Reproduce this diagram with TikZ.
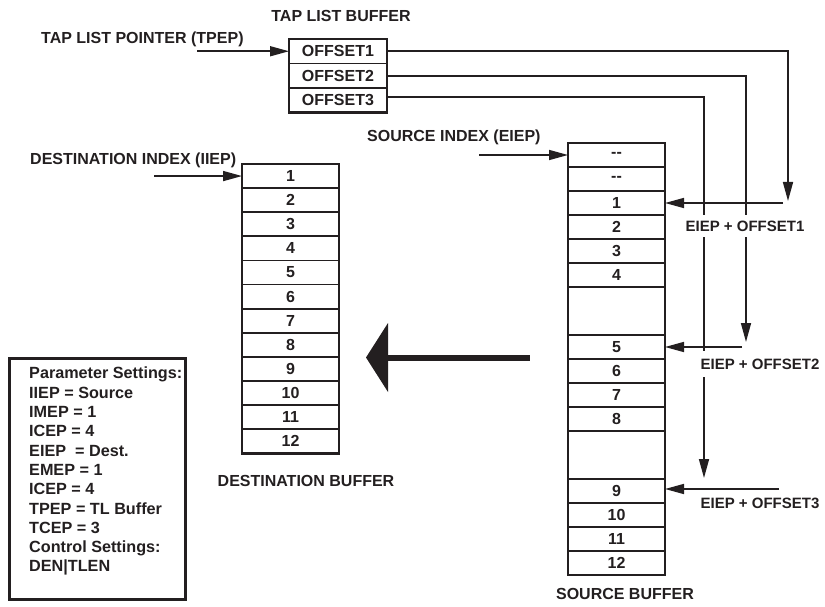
\documentclass[tikz,border=0pt]{standalone}
\usepackage{fontspec}
\setmainfont{Liberation Sans}
\usetikzlibrary{arrows.meta}
\definecolor{ink}{RGB}{35,31,32}
\begin{document}
\begin{tikzpicture}[x=1pt,y=-1pt,
  every node/.style={font=\bfseries\fontsize{16}{18}\selectfont, text=ink},
  cell/.style={draw=ink, line width=1.8pt, minimum width=97pt, minimum height=24pt, inner sep=0pt, outer sep=0pt},
  dcell/.style={cell, minimum height=24.1pt},
  tapcell/.style={cell, minimum width=98pt, minimum height=24.5pt},
  border/.style={draw=ink, line width=2.6pt},
  conn/.style={draw=ink, line width=1.6pt},
  arrow/.style={conn, -{Triangle[length=19pt,width=10pt]}},
  lab/.style={fill=white, font=\bfseries\fontsize{15}{17}\selectfont, inner xsep=1pt, inner ysep=6pt},
  plain/.style={anchor=west, inner sep=0pt}
]
\useasboundingbox (0,0) rectangle (825,607);

% tap list buffer
\node (tlb) at (341,16) {TAP LIST BUFFER};
\node[tapcell] (t1) at (338,51.25) {OFFSET1};
\node[tapcell] (t2) at (338,75.75) {OFFSET2};
\node[tapcell] (t3) at (338,100.25) {OFFSET3};
\draw[border] (t1.north west) rectangle (t3.south east);
\node[plain] (tpeplab) at (41,39) {TAP LIST POINTER (TPEP)};
\coordinate (tpep) at (197,51.25);
\draw[arrow] (tpep) -- (t1.west);

% source buffer
\node[cell] (sa) at (616.5,155) {-{}-};
\node[cell] (sb) at (616.5,179) {-{}-};
\node[cell] (s1) at (616.5,203) {1};
\node[cell] (s2) at (616.5,227) {2};
\node[cell] (s3) at (616.5,251) {3};
\node[cell] (s4) at (616.5,275) {4};
\node[cell, minimum height=48pt] (sg1) at (616.5,311) {};
\node[cell] (s5) at (616.5,347) {5};
\node[cell] (s6) at (616.5,371) {6};
\node[cell] (s7) at (616.5,395) {7};
\node[cell] (s8) at (616.5,419) {8};
\node[cell, minimum height=48pt] (sg2) at (616.5,455) {};
\node[cell] (s9) at (616.5,491) {9};
\node[cell] (s10) at (616.5,515) {10};
\node[cell] (s11) at (616.5,539) {11};
\node[cell] (s12) at (616.5,563) {12};
\draw[border] (sa.north west) rectangle (s12.south east);
\node (sblab) at (625,594) {SOURCE BUFFER};
\node[plain] (eieplab) at (367,137) {SOURCE INDEX (EIEP)};
\coordinate (eiep) at (479,155);
\draw[arrow] (eiep) -- (sa.west);

% destination buffer
\foreach \i in {1,...,12}
  \node[dcell] (d\i) at (290.5,{164+12.05+24.1*(\i-1)}) {\i};
\draw[border] (d1.north west) rectangle (d12.south east);
\node (dblab) at (306,481) {DESTINATION BUFFER};
\node[plain] (iieplab) at (30,160) {DESTINATION INDEX (IIEP)};
\coordinate (iiep) at (154,176.05);
\draw[arrow] (iiep) -- (d1.west);

% offset connectors
\coordinate (o1) at (788,201);
\coordinate (o2) at (746,342);
\coordinate (o3) at (704,478);
\draw[arrow] (t1.east) -| (o1);
\draw[arrow] (t2.east) -| (o2);
\draw[arrow] ([yshift=3pt]t3.east) -| (o3);
\coordinate (h1) at (783,203);
\coordinate (h2) at (742,347);
\coordinate (h3) at (779,489);
\draw[arrow] (h1) -- (h1 -| s1.east);
\draw[arrow] (h2) -- (h2 -| s5.east);
\draw[arrow] (h3) -- (h3 -| s9.east);
\node[lab] (l1) at (745,226) {EIEP + OFFSET1};
\node[lab, inner ysep=7.5pt] (l2) at (760,364) {EIEP + OFFSET2};
\node[lab] (l3) at (760,503) {EIEP + OFFSET3};

% big transfer arrow
\fill[ink] (366,357.5) -- (388,323) -- (388,392) -- cycle;
\draw[ink, line width=6pt] (387,357.5) -- (530,357.5);

% parameter box
\node[border, anchor=north west, minimum width=176pt, minimum height=241pt, inner sep=0pt] (pbox) at (8,357) {};
\node[anchor=north west, inner sep=0pt, align=left, font=\bfseries\fontsize{16.2}{19.3}\selectfont] (ptext) at (29,367)
  {Parameter Settings:\\ IIEP = Source\\ IMEP = 1\\ ICEP = 4\\ EIEP~ = Dest.\\ EMEP = 1\\ ICEP = 4\\ TPEP = TL Buffer\\ TCEP = 3\\ Control Settings:\\ DEN|TLEN};
\end{tikzpicture}
\end{document}
